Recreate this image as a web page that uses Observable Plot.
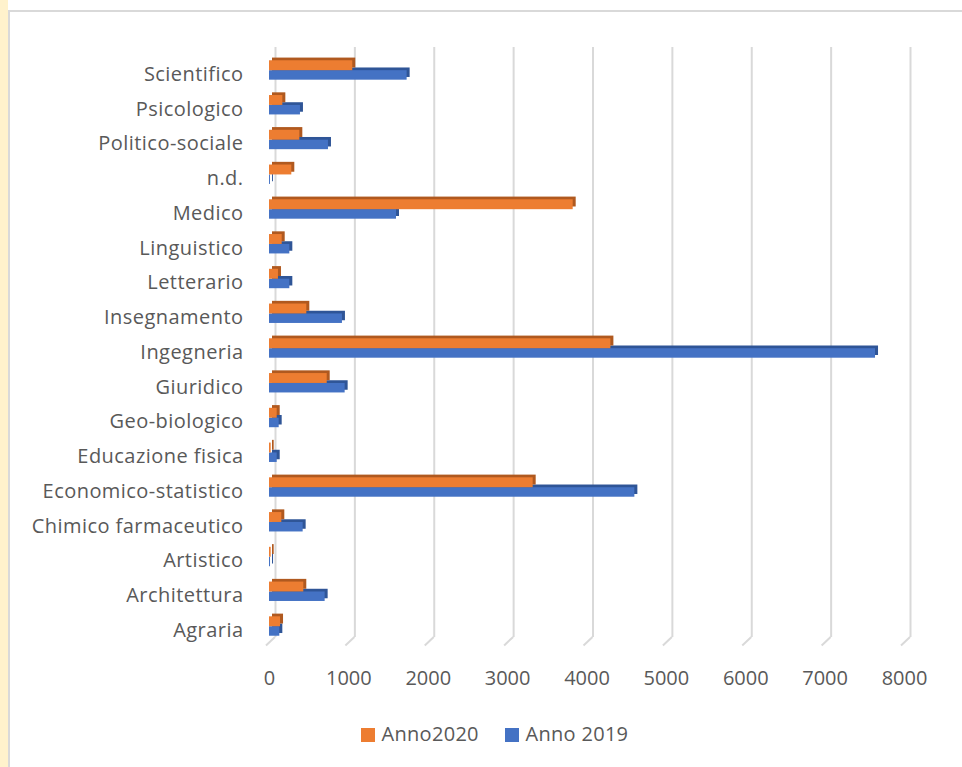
<!DOCTYPE html>
<html>
<head>
<meta charset="utf-8">
<script src="https://cdn.jsdelivr.net/npm/d3@7"></script>
<script src="https://cdn.jsdelivr.net/npm/@observablehq/plot@0.6"></script>
<style>
  html, body { margin: 0; padding: 0; background: #fff; }
  #page { position: relative; width: 962px; height: 767px; overflow: hidden; font-family: "Open Sans", sans-serif; }
  #strip { position: absolute; left: 0; top: 0; width: 8px; height: 767px; background: #FFF2CC; }
  #frame { position: absolute; left: 8px; top: 10px; width: 960px; height: 770px; border-left: 2px solid #D9D9D9; border-top: 2px solid #D9D9D9; }
  #chart { position: absolute; left: 0; top: 0; }
  #chart g[aria-label="y-axis tick label"] text { letter-spacing: 0.45px; }
  .lg-sw { position: absolute; width: 13.5px; height: 13.5px; }
  .lg-tx { position: absolute; font-size: 20px; line-height: 20px; color: #595959; white-space: nowrap; letter-spacing: 0.3px; }
</style>
</head>
<body>
<div id="page">
  <div id="strip"></div>
  <div id="frame"></div>
  <div id="chart"></div>
</div>
<script>
const categories = ["Scientifico", "Psicologico", "Politico-sociale", "n.d.", "Medico", "Linguistico",
  "Letterario", "Insegnamento", "Ingegneria", "Giuridico", "Geo-biologico", "Educazione fisica",
  "Economico-statistico", "Chimico farmaceutico", "Artistico", "Architettura", "Agraria"];
const anno2020 = [1049, 168, 382, 281, 3826, 160, 113, 470, 4301, 727, 97, 21, 3322, 155, 21, 432, 139];
const anno2019 = [1734, 390, 743, 12, 1600, 256, 256, 919, 7635, 953, 122, 97, 4603, 424, 13, 701, 130];
const xTicks = [0, 1000, 2000, 3000, 4000, 5000, 6000, 7000, 8000];
const seriesNames = ["Anno2020", "Anno 2019"];
const seriesColors = ["#ED7D31", "#4472C4"];
const seriesDark = ["#B0591F", "#2F5597"];

const d2020 = categories.map((c, i) => ({category: c, value: anno2020[i]}));
const d2019 = categories.map((c, i) => ({category: c, value: anno2019[i]}));

const W = 962, H = 700, mTop = 52.6, mBottom = 56.6, mLeft = 269, mRight = 58;
const half = 17.375;
const orangeInset = {insetTop: half - 9.7, insetBottom: half - 0.2};
const blueInset = {insetTop: half + 0.2, insetBottom: half - 9.7};

const feet = (index, scales, values, dims) => {
  const g = d3.create("svg:g");
  const yb = dims.height - dims.marginBottom;
  for (const v of xTicks) {
    const x = scales.x(v);
    g.append("path")
      .attr("d", `M${x + 6},${yb - 6.5} L${x - 3},${yb + 2}`)
      .attr("stroke", "#D9D9D9").attr("stroke-width", 2).attr("fill", "none");
  }
  return g.node();
};

const plot = Plot.plot({
  width: W, height: H,
  marginTop: mTop, marginBottom: mBottom, marginLeft: mLeft, marginRight: mRight,
  style: {fontFamily: "Open Sans, sans-serif", fontSize: "20px", color: "#595959", background: "transparent", overflow: "visible"},
  x: {domain: [0, 8000], range: [mLeft, W - mRight]},
  y: {domain: categories, padding: 0, round: false},
  marks: [
    Plot.ruleX(xTicks, {stroke: "#D9D9D9", strokeWidth: 2, dx: 6, insetTop: -5.6, insetBottom: 6.4}),
    feet,
    Plot.barX(d2019, {x: "value", y: "category", fill: seriesDark[1], dx: 3, dy: -2.7, ...blueInset}),
    Plot.barX(d2020, {x: "value", y: "category", fill: seriesDark[0], dx: 3, dy: -2.7, ...orangeInset}),
    Plot.barX(d2019, {x: "value", y: "category", fill: seriesColors[1], ...blueInset}),
    Plot.barX(d2020, {x: "value", y: "category", fill: seriesColors[0], ...orangeInset}),
    Plot.axisX({ticks: xTicks, tickSize: 0, tickPadding: 26.5, tickFormat: d3.format("d"), label: null}),
    Plot.axisY({tickSize: 0, tickPadding: 26, dy: 4, label: null})
  ]
});
document.getElementById("chart").appendChild(plot);

// legend (HTML, over the bottom of the page)
const page = document.getElementById("page");
const lgPos = [361, 505];
seriesNames.forEach((name, i) => {
  const sw = document.createElement("div");
  sw.className = "lg-sw";
  sw.style.left = lgPos[i] + "px";
  sw.style.top = "728px";
  sw.style.background = seriesColors[i];
  page.appendChild(sw);
  const tx = document.createElement("div");
  tx.className = "lg-tx";
  tx.style.left = (lgPos[i] + 20.5) + "px";
  tx.style.top = "724px";
  tx.textContent = name;
  page.appendChild(tx);
});
</script>
</body>
</html>
